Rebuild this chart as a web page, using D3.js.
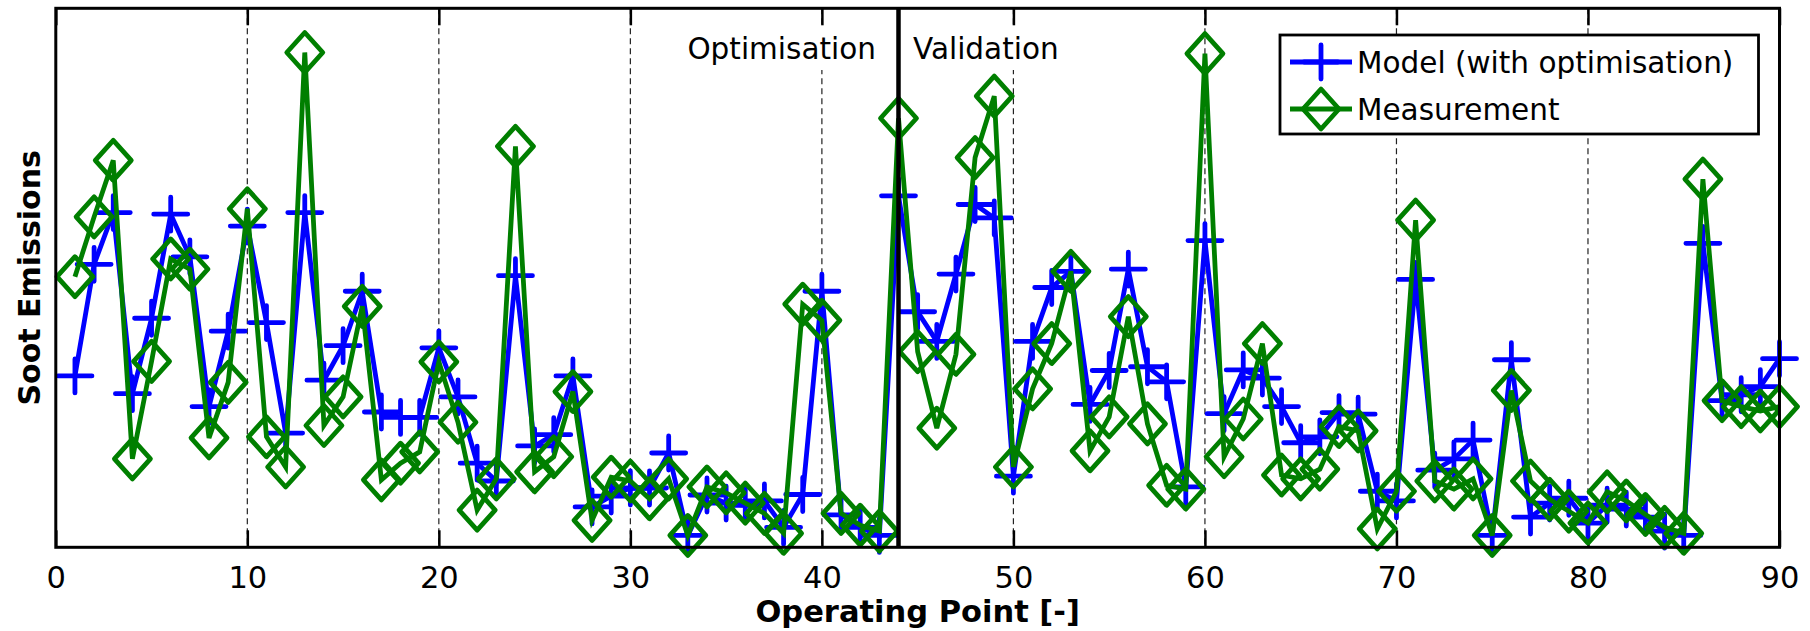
<!DOCTYPE html>
<html>
<head>
<meta charset="utf-8">
<script src="https://cdn.jsdelivr.net/npm/d3@7"></script>
<style>
  body { margin: 0; background: #fff; }
  text { font-family: "DejaVu Sans", Verdana, sans-serif; }
</style>
</head>
<body>
<div id="chart"></div>
<script>
// operating points on the x axis
var points = [
  1, 2, 3, 4, 5, 6, 7, 8, 9, 10,
  11, 12, 13, 14, 15, 16, 17, 18, 19, 20,
  21, 22, 23, 24, 25, 26, 27, 28, 29, 30,
  31, 32, 33, 34, 35, 36, 37, 38, 39, 40,
  41, 42, 43, 44, 45, 46, 47, 48, 49, 50,
  51, 52, 53, 54, 55, 56, 57, 58, 59, 60,
  61, 62, 63, 64, 65, 66, 67, 68, 69, 70,
  71, 72, 73, 74, 75, 76, 77, 78, 79, 80,
  81, 82, 83, 84, 85, 86, 87, 88, 89, 90
];

// soot emissions, no unit on the axis (read as % of axis height)
var model = [
  31.8, 52.5, 62.1, 28.5, 42.5, 61.8, 53.9, 26.1, 40.1, 59.6,
  41.7, 21.2, 62.1, 31.0, 37.4, 47.5, 25.1, 24.1, 24.1, 37.0,
  27.9, 15.6, 12.3, 50.4, 18.8, 20.9, 31.8, 7.5, 9.5, 11.0,
  11.0, 17.5, 2.2, 9.7, 8.2, 7.8, 8.6, 3.7, 9.8, 47.5,
  6.0, 3.7, 2.2, 65.2, 43.7, 38.2, 50.7, 63.6, 61.1, 13.2,
  38.2, 48.2, 51.2, 26.5, 32.8, 51.6, 33.5, 30.7, 11.2, 56.9,
  24.8, 32.9, 31.4, 26.1, 19.4, 20.5, 25.0, 24.7, 10.4, 8.6,
  49.7, 14.3, 16.4, 19.9, 2.2, 34.8, 5.6, 8.2, 9.1, 4.5,
  7.8, 7.1, 5.6, 3.0, 2.2, 56.4, 27.2, 28.3, 29.8, 35.0
];

var measurement = [
  50.2, 61.3, 71.8, 16.4, 34.5, 53.5, 51.6, 20.3, 30.6, 62.8,
  20.5, 14.9, 91.8, 22.6, 27.9, 44.7, 12.5, 15.6, 17.7, 34.4,
  23.2, 6.9, 12.7, 74.4, 14.0, 16.8, 28.9, 5.0, 13.0, 12.3,
  9.0, 12.7, 2.2, 11.2, 10.1, 8.2, 6.3, 2.6, 45.1, 42.1,
  6.3, 4.1, 3.0, 79.6, 36.3, 22.1, 35.8, 72.3, 83.7, 14.9,
  29.4, 37.8, 51.2, 17.9, 24.2, 42.8, 22.9, 11.5, 10.8, 91.6,
  16.8, 23.8, 37.8, 13.4, 12.7, 14.5, 22.4, 21.6, 3.4, 10.4,
  60.7, 12.3, 10.8, 12.7, 2.2, 29.1, 12.3, 8.9, 6.7, 4.5,
  10.3, 8.6, 6.1, 3.7, 2.6, 68.3, 27.2, 26.1, 25.3, 26.1
];

var xTicks = [0, 10, 20, 30, 40, 50, 60, 70, 80, 90];
var gridTicks = [10, 20, 30, 40, 50, 60, 70, 80];
var splitPoint = 44; // optimisation / validation boundary

var width = 1810, height = 631;
var plotLeft = 55.8, plotRight = 1779.5, plotTop = 8.3, plotBottom = 547.3;
var fontSize = 29.5;
var lineW = 4.8;

var svg = d3.select("#chart").append("svg")
  .attr("width", width)
  .attr("height", height);

var x = d3.scaleLinear().domain([0, 90]).range([plotLeft, plotRight]);
var y = d3.scaleLinear().domain([0, 100]).range([plotBottom, plotTop]);

// dashed vertical grid
svg.append("g")
  .selectAll("line")
  .data(gridTicks)
  .enter().append("line")
  .attr("x1", function(d) { return x(d); })
  .attr("x2", function(d) { return x(d); })
  .attr("y1", plotTop)
  .attr("y2", plotBottom)
  .attr("stroke", "#222")
  .attr("stroke-width", 1.2)
  .attr("stroke-dasharray", "6,4");

// inward ticks top and bottom, labels below
var xAxis = d3.axisBottom(x).tickValues(xTicks).tickSizeInner(-17).tickSizeOuter(0).tickPadding(19);
var gx = svg.append("g").attr("transform", "translate(0," + plotBottom + ")").call(xAxis);
gx.select(".domain").remove();
gx.selectAll(".tick line").attr("stroke", "#000").attr("stroke-width", 2.5);
gx.selectAll(".tick text")
  .attr("fill", "#000")
  .style("font-family", "'DejaVu Sans', Verdana, sans-serif")
  .style("font-size", "30.5px");

var xAxisTop = d3.axisTop(x).tickValues(xTicks).tickSizeInner(-17).tickSizeOuter(0).tickFormat("");
var gxt = svg.append("g").attr("transform", "translate(0," + plotTop + ")").call(xAxisTop);
gxt.select(".domain").remove();
gxt.selectAll(".tick line").attr("stroke", "#000").attr("stroke-width", 2.5);

// marker shapes
var plusPath = "M-17,0H17M0,-17V17";
var diamondPath = "M0,-20L18,0L0,20L-18,0Z";

function drawSeries(values, color, markerPath) {
  var rows = points.map(function(p, i) { return { p: p, v: values[i] }; });
  var line = d3.line()
    .x(function(d) { return x(d.p); })
    .y(function(d) { return y(d.v); });

  svg.append("path")
    .datum(rows)
    .attr("d", line)
    .attr("fill", "none")
    .attr("stroke", color)
    .attr("stroke-width", lineW);

  svg.append("g")
    .selectAll("path")
    .data(rows)
    .enter().append("path")
    .attr("transform", function(d) { return "translate(" + x(d.p) + "," + y(d.v) + ")"; })
    .attr("d", markerPath)
    .attr("fill", "none")
    .attr("stroke", color)
    .attr("stroke-width", lineW)
    .attr("stroke-linecap", "round")
    .attr("stroke-linejoin", "round");
}

drawSeries(model, "#0000ff", plusPath);
drawSeries(measurement, "#007f00", diamondPath);

// thick line splitting optimisation and validation points
svg.append("line")
  .attr("x1", x(splitPoint)).attr("x2", x(splitPoint))
  .attr("y1", plotTop).attr("y2", plotBottom)
  .attr("stroke", "#000")
  .attr("stroke-width", 4.5);

// region labels with white background
function regionLabel(label, xPos, anchor) {
  var g = svg.append("g");
  var bg = g.append("rect").attr("fill", "#fff");
  var t = g.append("text")
    .attr("x", xPos)
    .attr("y", 59)
    .attr("text-anchor", anchor)
    .style("font-size", fontSize + "px")
    .text(label);
  var bb = t.node().getBBox();
  bg.attr("x", bb.x - 5).attr("y", bb.y - 4)
    .attr("width", bb.width + 10).attr("height", bb.height + 8);
}
regionLabel("Optimisation", 876, "end");
regionLabel("Validation", 913, "start");

// legend
var legend = svg.append("g").attr("transform", "translate(1280,35)");
legend.append("rect")
  .attr("width", 478.5).attr("height", 99)
  .attr("fill", "#fff").attr("stroke", "#000").attr("stroke-width", 2.8);

var legendItems = [
  { name: "Model (with optimisation)", color: "#0000ff", marker: plusPath, yPos: 27 },
  { name: "Measurement", color: "#007f00", marker: diamondPath, yPos: 74 }
];
legendItems.forEach(function(item) {
  legend.append("line")
    .attr("x1", 10).attr("x2", 72)
    .attr("y1", item.yPos).attr("y2", item.yPos)
    .attr("stroke", item.color).attr("stroke-width", lineW);
  legend.append("path")
    .attr("transform", "translate(41," + item.yPos + ")")
    .attr("d", item.marker)
    .attr("fill", "none").attr("stroke", item.color)
    .attr("stroke-width", lineW)
    .attr("stroke-linecap", "round").attr("stroke-linejoin", "round");
  legend.append("text")
    .attr("x", 77).attr("y", item.yPos + 10.5)
    .style("font-size", fontSize + "px")
    .text(item.name);
});

// axes box
svg.append("rect")
  .attr("x", plotLeft).attr("y", plotTop)
  .attr("width", plotRight - plotLeft).attr("height", plotBottom - plotTop)
  .attr("fill", "none").attr("stroke", "#000").attr("stroke-width", 3);

// axis titles
svg.append("text")
  .attr("x", (plotLeft + plotRight) / 2)
  .attr("y", 622)
  .attr("text-anchor", "middle")
  .style("font-size", "30.5px")
  .style("font-weight", "bold")
  .text("Operating Point [-]");

svg.append("text")
  .attr("transform", "translate(40," + (plotTop + plotBottom) / 2 + ") rotate(-90)")
  .attr("text-anchor", "middle")
  .style("font-size", "30px")
  .style("font-weight", "bold")
  .text("Soot Emissions");
</script>
</body>
</html>
